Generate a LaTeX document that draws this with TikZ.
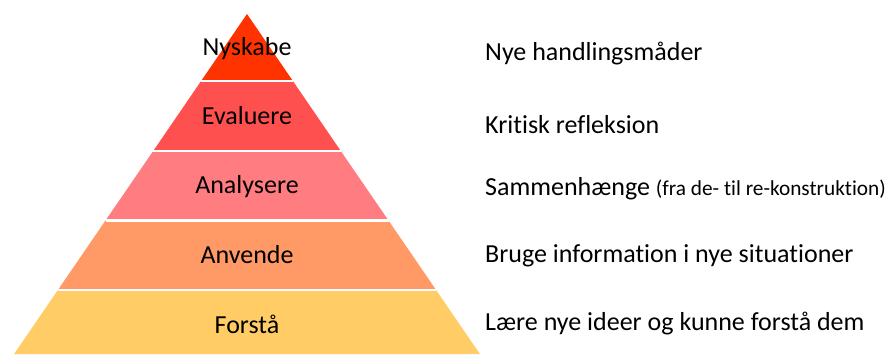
\documentclass[tikz,border=0pt]{standalone}
\usepackage{fontspec}
\setmainfont{Carlito}[RawFeature=-liga]
\definecolor{lvA}{HTML}{FF3300}
\definecolor{lvB}{HTML}{FF5050}
\definecolor{lvC}{HTML}{FF7C80}
\definecolor{lvD}{HTML}{FF9966}
\definecolor{lvE}{HTML}{FFCC66}
\tikzset{
  lvtext/.style={font=\fontsize{26}{30}\selectfont, anchor=base, inner sep=0pt},
  desctext/.style={font=\fontsize{26}{30}\selectfont, anchor=base west, inner sep=0pt},
  sepline/.style={draw=white, line width=2.2pt},
}
\begin{document}
\begin{tikzpicture}[x=1pt,y=-1pt]
\useasboundingbox (0,0) rectangle (895,354);
% bands
\fill[lvA] (247,14) -- (292.9,81) -- (201.1,81) -- cycle;
\fill[lvB] (201.1,81) -- (292.9,81) -- (340.8,151) -- (153.2,151) -- cycle;
\fill[lvC] (153.2,151) -- (340.8,151) -- (388.5,220.5) -- (105.5,220.5) -- cycle;
\fill[lvD] (105.5,220.5) -- (388.5,220.5) -- (436.1,290) -- (57.9,290) -- cycle;
\fill[lvE] (57.9,290) -- (436.1,290) -- (479.9,354) -- (14.1,354) -- cycle;
% separators
\draw[sepline] (201.1,81) -- (292.9,81);
\draw[sepline] (153.2,151) -- (340.8,151);
\draw[sepline] (105.5,220.5) -- (388.5,220.5);
\draw[sepline] (57.9,290) -- (436.1,290);
% level labels
\node[lvtext] (l1) at (247,55) {Nyskabe};
\node[lvtext] (l2) at (247,124) {Evaluere};
\node[lvtext] (l3) at (247,193) {Analysere};
\node[lvtext] (l4) at (247,263) {Anvende};
\node[lvtext] (l5) at (247,333) {Forstå};
% descriptions
\node[desctext] (d1) at (485,60.5) {Nye handlingsmåder};
\node[desctext] (d2) at (485,133) {Kritisk refleksion};
\node[desctext] (d3) at (485,195.5) {Sammenhænge {\fontsize{21.3}{24}\selectfont(fra de- til re-konstruktion)}};
\node[desctext] (d4) at (485,262) {Bruge information i nye situationer};
\node[desctext] (d5) at (485,330) {Lære nye ideer og kunne forstå dem};
\end{tikzpicture}
\end{document}
